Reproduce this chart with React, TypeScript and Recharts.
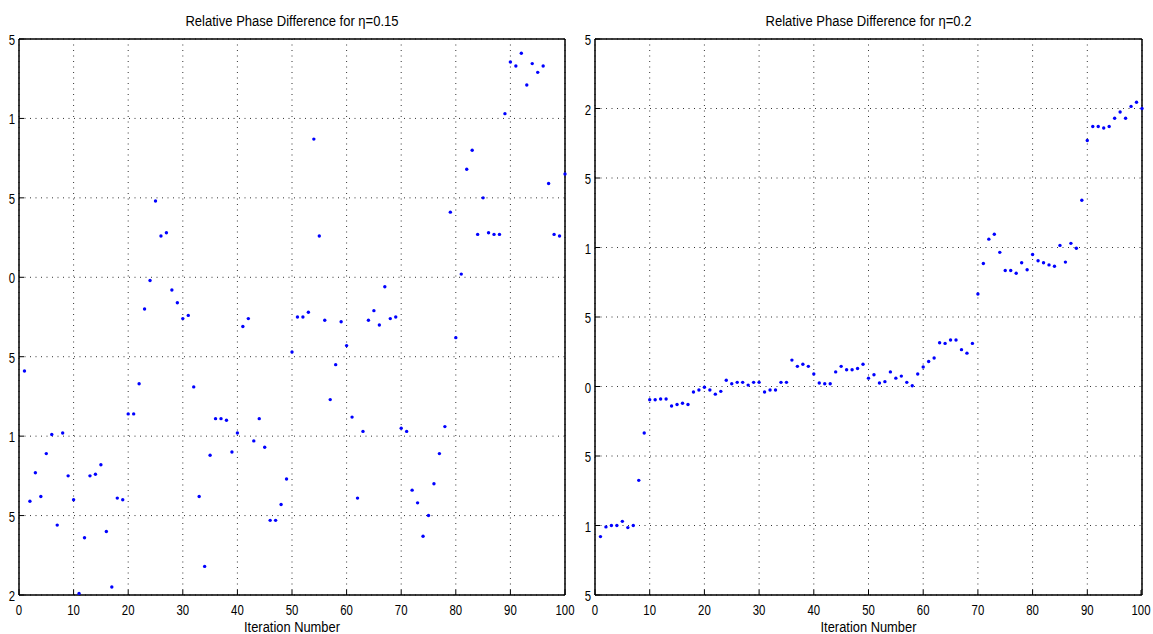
import React from "react";
import { ScatterChart, Scatter, XAxis, YAxis, CartesianGrid, Label } from "recharts";

// iteration numbers 1..100 on the x axis
const iterations = Array.from({ length: 100 }, (_, i) => i + 1);
const xTicks = [0, 10, 20, 30, 40, 50, 60, 70, 80, 90, 100];

// y values are in grid steps (0 = bottom gridline)
const phase015 = [
  2.82, 1.18, 1.54, 1.24, 1.78, 2.02, 0.88, 2.04, 1.5, 1.2,
  0.02, 0.72, 1.5, 1.52, 1.64, 0.8, 0.1, 1.22, 1.2, 2.28,
  2.28, 2.66, 3.6, 3.96, 4.96, 4.52, 4.56, 3.84, 3.68, 3.48,
  3.52, 2.62, 1.24, 0.36, 1.76, 2.22, 2.22, 2.2, 1.8, 2.04,
  3.38, 3.48, 1.94, 2.22, 1.86, 0.94, 0.94, 1.14, 1.46, 3.06,
  3.5, 3.5, 3.56, 5.74, 4.52, 3.46, 2.46, 2.9, 3.44, 3.14,
  2.24, 1.22, 2.06, 3.46, 3.58, 3.4, 3.88, 3.48, 3.5, 2.1,
  2.06, 1.32, 1.16, 0.74, 1.0, 1.4, 1.78, 2.12, 4.82, 3.24,
  4.04, 5.36, 5.6, 4.54, 5.0, 4.56, 4.54, 4.54, 6.06, 6.71,
  6.66, 6.82, 6.42, 6.69, 6.58, 6.66, 5.18, 4.54, 4.52, 5.3,
];
const phase02 = [
  0.84, 0.98, 1.0, 1.0, 1.06, 0.97, 1.0, 1.65, 2.33, 2.81,
  2.81, 2.82, 2.82, 2.72, 2.74, 2.76, 2.74, 2.92, 2.95, 2.99,
  2.95, 2.89, 2.93, 3.09, 3.04, 3.06, 3.06, 3.02, 3.06, 3.06,
  2.92, 2.95, 2.95, 3.06, 3.06, 3.38, 3.29, 3.32, 3.29, 3.18,
  3.05, 3.04, 3.04, 3.21, 3.29, 3.24, 3.24, 3.26, 3.32, 3.12,
  3.17, 3.05, 3.07, 3.21, 3.12, 3.15, 3.06, 3.01, 3.18, 3.28,
  3.36, 3.41, 3.63, 3.62, 3.67, 3.67, 3.53, 3.48, 3.62, 4.33,
  4.77, 5.12, 5.19, 4.93, 4.67, 4.67, 4.63, 4.78, 4.68, 4.9,
  4.81, 4.78, 4.75, 4.73, 5.03, 4.79, 5.06, 4.99, 5.68, 6.54,
  6.74, 6.74, 6.72, 6.74, 6.86, 6.95, 6.86, 7.03, 7.09, 7.0,
];

// tick labels as they appear (clipped to last character), bottom to top
const yLabels015 = ["2", "5", "1", "5", "0", "5", "1", "5"];
const yLabels02 = ["5", "1", "5", "0", "5", "1", "5", "2", "5"];

const FONT = "'Liberation Sans', Arial, Helvetica, sans-serif";
const TL = 5;

// the original text is tall and narrow, so squeeze it horizontally
const NText = ({ x, y, sx, anchor, children }: any) => (
  <text transform={`translate(${x},${y}) scale(${sx},1)`} textAnchor={anchor}
    fontSize={15} fontFamily={FONT} fill="#000">
    {children}
  </text>
);

const BottomTick = (p: any) => (
  <g>
    <line x1={p.x} x2={p.x} y1={p.y} y2={p.y - TL} stroke="#000" />
    <NText x={p.x} y={p.y + 20} sx={0.76} anchor="middle">{p.payload.value}</NText>
  </g>
);
const TopTick = (p: any) => <line x1={p.x} x2={p.x} y1={p.y} y2={p.y + TL} stroke="#000" />;
const RightTick = (p: any) => <line x1={p.x} x2={p.x - TL} y1={p.y} y2={p.y} stroke="#000" />;
const makeLeftTick = (labels: string[]) => (p: any) => (
  <g>
    <line x1={p.x} x2={p.x + TL} y1={p.y} y2={p.y} stroke="#000" />
    <NText x={p.x - 4} y={p.y + 6} sx={0.76} anchor="end">{labels[p.payload.value]}</NText>
  </g>
);

const Dot = (p: any) => <circle cx={p.cx} cy={p.cy} r={1.7} fill="#0000ff" />;

function Panel({ title, values, labels, left, width, yw, right }: any) {
  const data = iterations.map((it, i) => ({ it, v: values[i] }));
  const yTicks = labels.map((_: string, i: number) => i);
  const top = yTicks[yTicks.length - 1];
  return (
    <div style={{ position: "absolute", left, top: 0 }}>
      <ScatterChart width={width} height={634} margin={{ top: 38, right, bottom: 0, left: 0 }}>
        <CartesianGrid xAxisId="b" yAxisId="l" stroke="#333" strokeDasharray="1 4.5" />
        <XAxis xAxisId="b" type="number" dataKey="it" domain={[0, 100]} ticks={xTicks} height={39}
          tickSize={0} tickMargin={0} tickLine={false} tick={BottomTick}
          axisLine={{ stroke: "#000", strokeWidth: 1.5 }}>
          <Label content={(p: any) => (
            <NText x={p.viewBox.x + p.viewBox.width / 2} y={p.viewBox.y + p.viewBox.height - 2} sx={0.86} anchor="middle">
              Iteration Number
            </NText>
          )} />
        </XAxis>
        <XAxis xAxisId="t" orientation="top" type="number" domain={[0, 100]} ticks={xTicks} height={1}
          tickSize={0} tickMargin={0} tickLine={false} tick={TopTick}
          axisLine={{ stroke: "#000", strokeWidth: 1.5 }}>
          <Label content={(p: any) => (
            <NText x={p.viewBox.x + p.viewBox.width / 2} y={p.viewBox.y - 12.5} sx={0.87} anchor="middle">
              {title}
            </NText>
          )} />
        </XAxis>
        <YAxis yAxisId="l" type="number" dataKey="v" domain={[0, top]} ticks={yTicks} width={yw}
          tickSize={0} tickMargin={0} tickLine={false} tick={makeLeftTick(labels)}
          axisLine={{ stroke: "#000", strokeWidth: 1.5 }} />
        <YAxis yAxisId="r" orientation="right" type="number" domain={[0, top]} ticks={yTicks} width={1}
          tickSize={0} tickMargin={0} tickLine={false} tick={RightTick}
          axisLine={{ stroke: "#000", strokeWidth: 1.5 }} />
        <Scatter xAxisId="b" yAxisId="l" data={data} shape={Dot} isAnimationActive={false} />
      </ScatterChart>
    </div>
  );
}

export default function App() {
  return (
    <div style={{ position: "absolute", left: 0, top: 0, width: 1153, height: 634, background: "#fff" }}>
      <Panel title="Relative Phase Difference for η=0.15" values={phase015} labels={yLabels015}
        left={0} width={580} yw={19} right={14} />
      <Panel title="Relative Phase Difference for η=0.2" values={phase02} labels={yLabels02}
        left={570} width={583} yw={25} right={10} />
    </div>
  );
}
